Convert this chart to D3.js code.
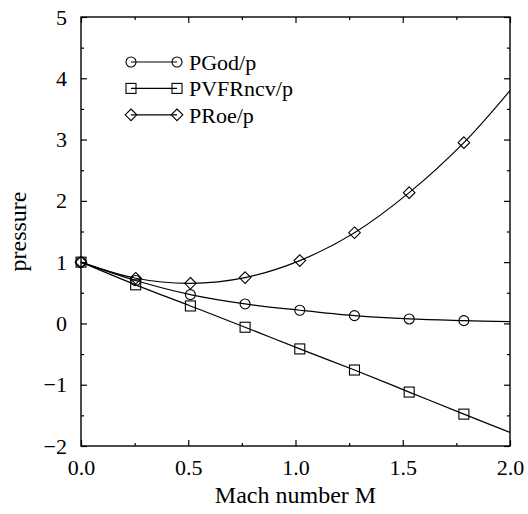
<!DOCTYPE html>
<html>
<head>
<meta charset="utf-8">
<script src="https://cdn.jsdelivr.net/npm/d3@7"></script>
<style>
  html, body { margin: 0; padding: 0; background: #fff; }
  svg { display: block; font-family: "Liberation Serif", "Times New Roman", serif; }
</style>
</head>
<body>
<svg id="chart" width="528" height="514"></svg>
<script>
// Mach numbers at which the pressure ratios are sampled
const mach = [0, 0.255, 0.51, 0.765, 1.02, 1.275, 1.53, 1.785, 2.0];
// Pressure ratios for each scheme
const pGod = [1.0, 0.70, 0.47, 0.318, 0.215, 0.127, 0.073, 0.046, 0.03];
const pVFR = [1.0, 0.63, 0.285, -0.062, -0.416, -0.76, -1.12, -1.48, -1.78];
const pRoe = [1.0, 0.737, 0.655, 0.748, 1.025, 1.48, 2.134, 2.95, 3.80];
// Number of leading samples that carry a symbol
const markedCount = 8;

const seriesNames = ["PGod/p", "PVFRncv/p", "PRoe/p"];
const seriesValues = [pGod, pVFR, pRoe];
const seriesSymbols = ["circle", "square", "diamond"];

const xTicks = [0, 0.5, 1.0, 1.5, 2.0];
const xMinor = [0.25, 0.75, 1.25, 1.75];
const yTicks = [-2, -1, 0, 1, 2, 3, 4, 5];
const yMinor = [-1.5, -0.5, 0.5, 1.5, 2.5, 3.5, 4.5];

const plotLeft = 81, plotRight = 510, plotTop = 17, plotBottom = 446;

const svg = d3.select("#chart");
const x = d3.scaleLinear().domain([0, 2]).range([plotLeft, plotRight]);
const y = d3.scaleLinear().domain([-2, 5]).range([plotBottom, plotTop]);

const fontSize = 22;

// Axes with inward ticks on all four sides
function styleAxis(g) {
  g.select(".domain").remove();
  g.selectAll(".tick line").attr("stroke", "#000").attr("stroke-width", 1.2);
  g.selectAll(".tick text")
    .attr("fill", "#000")
    .style("font-family", "'Liberation Serif', 'Times New Roman', serif")
    .style("font-size", fontSize + "px");
}

svg.append("g").attr("transform", `translate(0,${plotBottom})`)
  .call(d3.axisBottom(x).tickValues(xTicks).tickFormat(d3.format(".1f")).tickSizeInner(-6).tickSizeOuter(0).tickPadding(13))
  .call(styleAxis);
svg.append("g").attr("transform", `translate(0,${plotBottom})`)
  .call(d3.axisBottom(x).tickValues(xMinor).tickFormat("").tickSizeInner(-3).tickSizeOuter(0))
  .call(styleAxis);
svg.append("g").attr("transform", `translate(0,${plotTop})`)
  .call(d3.axisTop(x).tickValues(xTicks).tickFormat("").tickSizeInner(-6).tickSizeOuter(0))
  .call(styleAxis);
svg.append("g").attr("transform", `translate(0,${plotTop})`)
  .call(d3.axisTop(x).tickValues(xMinor).tickFormat("").tickSizeInner(-3).tickSizeOuter(0))
  .call(styleAxis);

svg.append("g").attr("transform", `translate(${plotLeft},0)`)
  .call(d3.axisLeft(y).tickValues(yTicks).tickFormat(d3.format("d")).tickSizeInner(-6).tickSizeOuter(0).tickPadding(14))
  .call(styleAxis);
svg.append("g").attr("transform", `translate(${plotLeft},0)`)
  .call(d3.axisLeft(y).tickValues(yMinor).tickFormat("").tickSizeInner(-3).tickSizeOuter(0))
  .call(styleAxis);
svg.append("g").attr("transform", `translate(${plotRight},0)`)
  .call(d3.axisRight(y).tickValues(yTicks).tickFormat("").tickSizeInner(-6).tickSizeOuter(0))
  .call(styleAxis);
svg.append("g").attr("transform", `translate(${plotRight},0)`)
  .call(d3.axisRight(y).tickValues(yMinor).tickFormat("").tickSizeInner(-3).tickSizeOuter(0))
  .call(styleAxis);

// Plot frame
svg.append("rect")
  .attr("x", plotLeft).attr("y", plotTop)
  .attr("width", plotRight - plotLeft).attr("height", plotBottom - plotTop)
  .attr("fill", "none").attr("stroke", "#000").attr("stroke-width", 1.4);

// Axis titles
svg.append("text")
  .attr("x", (plotLeft + plotRight) / 2).attr("y", 503)
  .attr("text-anchor", "middle")
  .style("font-size", "24px")
  .text("Mach number M");
svg.append("text")
  .attr("transform", `translate(26,${(plotTop + plotBottom) / 2}) rotate(-90)`)
  .attr("text-anchor", "middle")
  .style("font-size", "24px")
  .text("pressure");

// Symbol drawing
function drawSymbol(g, kind, cx, cy) {
  if (kind === "circle") {
    g.append("circle").attr("cx", cx).attr("cy", cy).attr("r", 5);
  } else if (kind === "square") {
    g.append("rect").attr("x", cx - 5).attr("y", cy - 5).attr("width", 10).attr("height", 10);
  } else {
    const r = 5.8;
    g.append("path").attr("d", `M${cx},${cy - r}L${cx + r},${cy}L${cx},${cy + r}L${cx - r},${cy}Z`);
  }
}

const line = d3.line()
  .x(d => x(d[0]))
  .y(d => y(d[1]))
  .curve(d3.curveCatmullRom.alpha(0.5));

const plot = svg.append("g");
seriesValues.forEach((vals, i) => {
  const pts = mach.map((m, j) => [m, vals[j]]);
  plot.append("path")
    .attr("d", line(pts))
    .attr("fill", "none").attr("stroke", "#000").attr("stroke-width", 1.2);
  const mg = plot.append("g").attr("fill", "none").attr("stroke", "#000").attr("stroke-width", 1.1);
  pts.slice(0, markedCount).forEach(p => drawSymbol(mg, seriesSymbols[i], x(p[0]), y(p[1])));
});

// Legend
const legend = svg.append("g");
seriesNames.forEach((name, i) => {
  const ly = 62 + i * 26.4;
  legend.append("line")
    .attr("x1", 131).attr("x2", 177).attr("y1", ly).attr("y2", ly)
    .attr("stroke", "#000").attr("stroke-width", 1.2);
  const mg = legend.append("g").attr("fill", "none").attr("stroke", "#000").attr("stroke-width", 1.1);
  drawSymbol(mg, seriesSymbols[i], 131, ly);
  drawSymbol(mg, seriesSymbols[i], 177, ly);
  legend.append("text")
    .attr("x", 189).attr("y", ly).attr("dy", "0.35em")
    .style("font-size", fontSize + "px")
    .text(name);
});
</script>
</body>
</html>
